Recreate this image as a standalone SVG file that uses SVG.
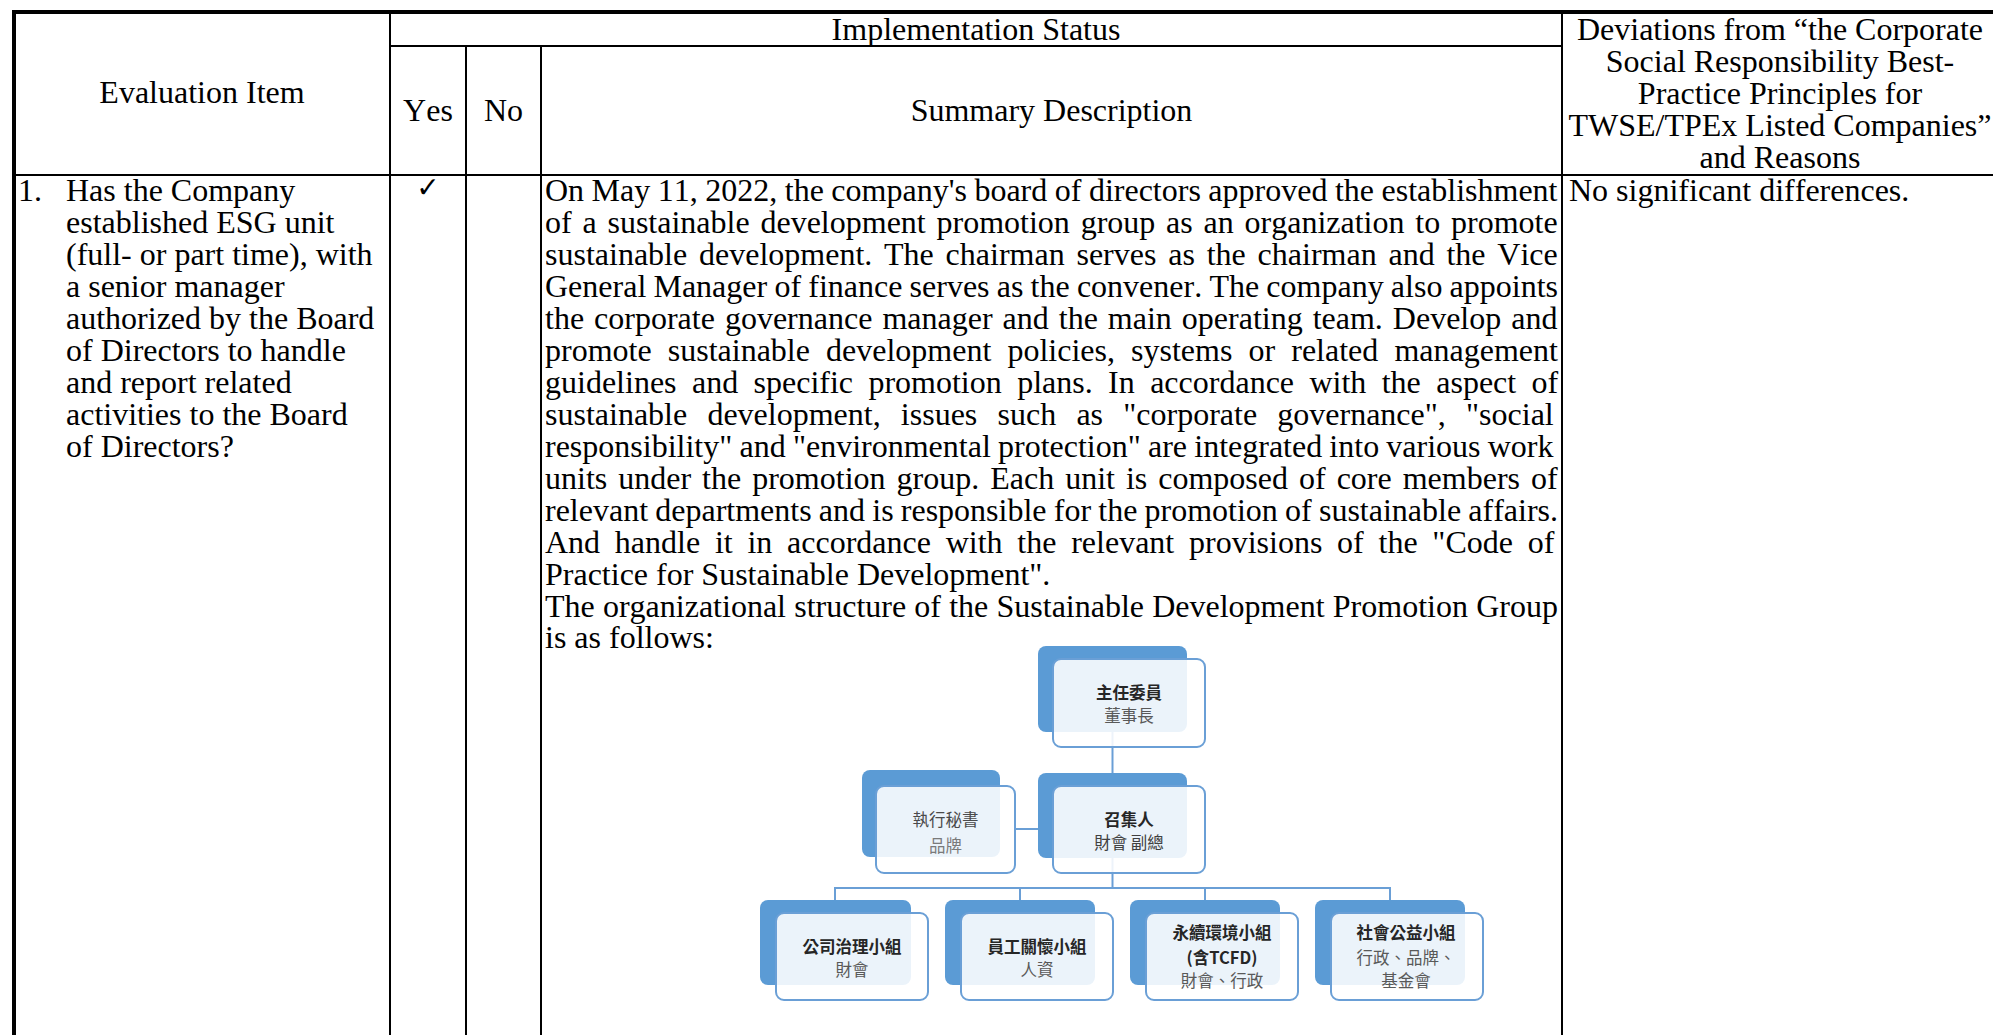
<svg xmlns="http://www.w3.org/2000/svg" width="1993" height="1035" viewBox="0 0 1993 1035">
<style>
.t{font-family:"Liberation Serif","Times New Roman",serif;font-size:32px;fill:#000;font-kerning:none;font-variant-ligatures:none}
.m{text-anchor:middle}
.g{stroke:#000;fill:none}
.back{fill:#5B9BD5}
.front{fill:#fff;fill-opacity:0.88;stroke:#6A9FD6;stroke-width:2}
.cj{font-family:"Noto Sans CJK TC","Noto Sans CJK SC",sans-serif;font-size:16.5px;text-anchor:middle;dominant-baseline:central}
.hd{font-weight:bold;fill:#262626}
.sb{fill:#595959}
.conn{stroke:#6A9FD6;stroke-width:2;fill:none}
</style>
<rect width="1993" height="1035" fill="#fff"/>
<g id="table-grid">
<line class="g" x1="12" y1="12" x2="1993" y2="12" stroke-width="4"/>
<line class="g" x1="14" y1="10" x2="14" y2="1035" stroke-width="4"/>
<line class="g" x1="390" y1="46" x2="1562" y2="46" stroke-width="2"/>
<line class="g" x1="14" y1="175" x2="1993" y2="175" stroke-width="2"/>
<line class="g" x1="390" y1="12" x2="390" y2="1035" stroke-width="2"/>
<line class="g" x1="466" y1="46" x2="466" y2="1035" stroke-width="2"/>
<line class="g" x1="541" y1="46" x2="541" y2="1035" stroke-width="2"/>
<line class="g" x1="1562" y1="12" x2="1562" y2="1035" stroke-width="2"/>
</g>
<g id="header">
<text class="t m" x="976" y="40">Implementation Status</text>
<text class="t m" x="202" y="103">Evaluation Item</text>
<text class="t m" x="428" y="121">Yes</text>
<text class="t m" x="503.5" y="121">No</text>
<text class="t m" x="1051.5" y="121">Summary Description</text>
<text class="t m" x="1780" y="40">Deviations from “the Corporate</text>
<text class="t m" x="1780" y="72">Social Responsibility Best-</text>
<text class="t m" x="1780" y="104">Practice Principles for</text>
<text class="t m" x="1780" y="136">TWSE/TPEx Listed Companies”</text>
<text class="t m" x="1780" y="168">and Reasons</text>
</g>
<g id="row1-item">
<text class="t" x="18" y="201">1.</text>
<text class="t" x="66" y="201">Has the Company</text>
<text class="t" x="66" y="233">established ESG unit</text>
<text class="t" x="66" y="265">(full- or part time), with</text>
<text class="t" x="66" y="297">a senior manager</text>
<text class="t" x="66" y="329">authorized by the Board</text>
<text class="t" x="66" y="361">of Directors to handle</text>
<text class="t" x="66" y="393">and report related</text>
<text class="t" x="66" y="425">activities to the Board</text>
<text class="t" x="66" y="457">of Directors?</text>
</g>
<g id="row1-yes">
<text x="428" y="197" font-family="DejaVu Sans, sans-serif" font-size="28" text-anchor="middle">✓</text>
</g>
<g id="row1-summary">
<text class="t" x="545" y="201" word-spacing="-0.5">On May 11, 2022, the company's board of directors approved the establishment</text>
<text class="t" x="545" y="233" word-spacing="2.8">of a sustainable development promotion group as an organization to promote</text>
<text class="t" x="545" y="264.9" word-spacing="3.8">sustainable development. The chairman serves as the chairman and the Vice</text>
<text class="t" x="545" y="296.9" word-spacing="-0.8">General Manager of finance serves as the convener. The company also appoints</text>
<text class="t" x="545" y="328.8" word-spacing="2.0">the corporate governance manager and the main operating team. Develop and</text>
<text class="t" x="545" y="360.8" word-spacing="8.1">promote sustainable development policies, systems or related management</text>
<text class="t" x="545" y="392.8" word-spacing="7.4">guidelines and specific promotion plans. In accordance with the aspect of</text>
<text class="t" x="545" y="424.7" word-spacing="12.2">sustainable development, issues such as "corporate governance", "social</text>
<text class="t" x="545" y="456.7" word-spacing="-0.8">responsibility" and "environmental protection" are integrated into various work</text>
<text class="t" x="545" y="488.6" word-spacing="3.0">units under the promotion group. Each unit is composed of core members of</text>
<text class="t" x="545" y="520.6" word-spacing="-0.8">relevant departments and is responsible for the promotion of sustainable affairs.</text>
<text class="t" x="545" y="552.6" word-spacing="6.75">And handle it in accordance with the relevant provisions of the "Code of</text>
<text class="t" x="545" y="584.5">Practice for Sustainable Development".</text>
<text class="t" x="545" y="616.5" word-spacing="0.2">The organizational structure of the Sustainable Development Promotion Group</text>
<text class="t" x="545" y="648.4">is as follows:</text>
</g>
<g id="row1-deviation">
<text class="t" x="1569" y="201">No significant differences.</text>
</g>
<g id="connectors">
<line class="conn" x1="1112.5" y1="732" x2="1112.5" y2="773"/>
<line class="conn" x1="1015" y1="829" x2="1038" y2="829"/>
<line class="conn" x1="1112.5" y1="858" x2="1112.5" y2="888"/>
<line class="conn" x1="835" y1="888" x2="1390" y2="888"/>
<line class="conn" x1="835" y1="887" x2="835" y2="900"/>
<line class="conn" x1="1020" y1="887" x2="1020" y2="900"/>
<line class="conn" x1="1205" y1="887" x2="1205" y2="900"/>
<line class="conn" x1="1390" y1="887" x2="1390" y2="900"/>
</g>
<g id="node-chair">
<rect class="back" x="1038" y="646" width="149" height="86" rx="8"/>
<rect class="front" x="1053" y="659" width="152" height="88" rx="8"/>
<text class="cj hd" x="1129" y="692">主任委員</text>
<text class="cj sb" x="1129" y="715">董事長</text>
</g>
<g id="node-convener">
<rect class="back" x="1038" y="773" width="149" height="85" rx="8"/>
<rect class="front" x="1053" y="786" width="152" height="87" rx="8"/>
<text class="cj hd" x="1129" y="819">召集人</text>
<text class="cj" x="1129" y="842" fill="#404040">財會 副總</text>
</g>
<g id="node-secretary">
<rect class="back" x="862" y="770" width="138" height="87" rx="8"/>
<rect class="front" x="876" y="786" width="139" height="87" rx="8"/>
<text class="cj" x="945.5" y="819" fill="#4a4a4a">執行秘書</text>
<text class="cj" x="945.5" y="845" fill="#7a7a7a">品牌</text>
</g>
<g id="node-governance">
<rect class="back" x="760" y="900" width="151" height="85" rx="8"/>
<rect class="front" x="776" y="913" width="152" height="87" rx="8"/>
<text class="cj hd" x="852" y="946">公司治理小組</text>
<text class="cj sb" x="852" y="969">財會</text>
</g>
<g id="node-employee">
<rect class="back" x="945" y="900" width="150" height="85" rx="8"/>
<rect class="front" x="961" y="913" width="152" height="87" rx="8"/>
<text class="cj hd" x="1037" y="946">員工關懷小組</text>
<text class="cj sb" x="1037" y="969">人資</text>
</g>
<g id="node-environment">
<rect class="back" x="1130" y="900" width="150" height="85" rx="8"/>
<rect class="front" x="1146" y="913" width="152" height="87" rx="8"/>
<text class="cj hd" x="1222" y="932">永續環境小組</text>
<text class="cj hd" x="1222" y="957">(含TCFD)</text>
<text class="cj sb" x="1222" y="980">財會、行政</text>
</g>
<g id="node-social">
<rect class="back" x="1315" y="900" width="150" height="85" rx="8"/>
<rect class="front" x="1331" y="913" width="152" height="87" rx="8"/>
<text class="cj hd" x="1406" y="932">社會公益小組</text>
<text class="cj sb" x="1406" y="957">行政、品牌、</text>
<text class="cj sb" x="1406" y="980">基金會</text>
</g>
</svg>
